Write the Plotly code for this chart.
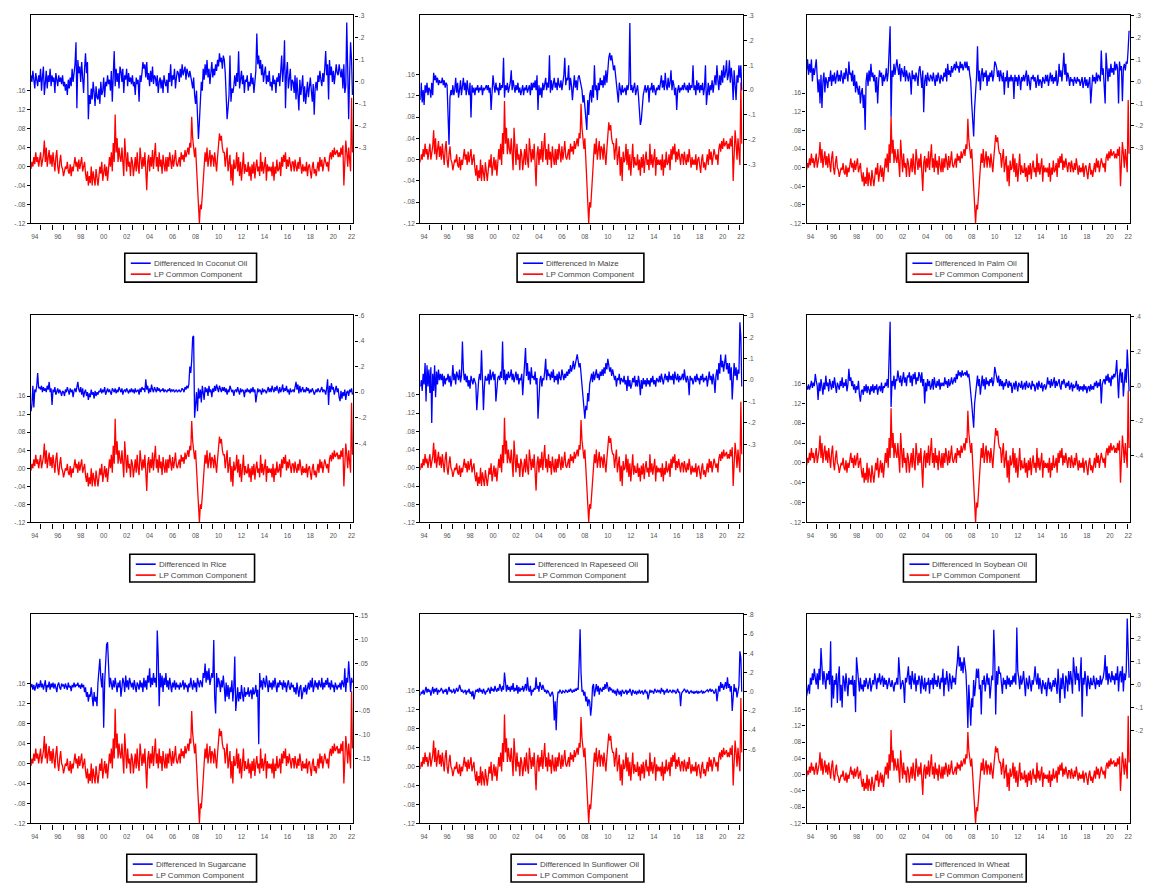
import pandas as pd
import plotly.graph_objects as go

OFF = 0
W, H = 1149, 886

# ---------------- data (monthly, 1994M03 .. 2022M03), values in thousandths ----------------
lp_common = [
 -5, 10, 0, 20, 5, 30, 10, 20, 0, 15,
 30, 0, 15, 25, 55, 10, 40, 0, 20, 35, 5, 25,
 0, 30, 10, -10, 20, 35, 0, -15, 10, 25, 0, -5,
 -20, -10, 0, -5, 10, -10, -15, 5, -20, 0, -10, 5,
 20, 0, 10, -10, 15, -5, 5, 20, -10, 0, 10, -15,
 -30, -10, -40, -20, -35, 0, -40, -10, -25, -40, -5, -20,
 -40, -20, 0, -15, 10, -30, -10, 5, -20, 0, -30, 10,
 20, 0, 30, -10, 50, 10, 110, 30, 60, 10, 40, 20,
 10, 40, 0, -20, 60, 20, -10, 30, 0, 10, -20, 20,
 10, -20, 0, 20, -10, 30, 0, -15, 40, 10, -5, 20,
 0, 30, -10, -50, 10, 25, -10, 20, 0, 35, -5, 15,
 50, 0, 20, -10, 30, 0, 15, -15, 25, 5, -10, 20,
 -10, 20, 0, 30, 10, -5, 25, 0, 15, 35, 5, 0,
 10, 20, 0, 30, 15, 25, 10, 35, 20, 30, 40, 25,
 50, 40, 105, 60, 30, 20, 40, 0, -60, -100, -120, -80,
 -90, -60, -30, 0, 30, 10, 40, 0, 20, 35, 0, 25,
 20, 0, 30, 10, -10, 20, 40, 70, 55, 65, 40, 30,
 30, 0, 20, 40, -10, 10, 25, -30, 5, -40, 15, -5,
 0, 30, -10, 20, -20, 10, -30, 0, 30, -15, 5, -10,
 -10, 10, -20, 0, -30, 5, -15, 10, -25, 0, 15, -10,
 0, -20, 30, -10, 10, -15, 0, 20, -30, 5, -10, 0,
 -10, 0, -20, 10, -30, 0, -15, 15, -10, -5, 10, -20,
 20, 0, 25, 10, 30, -5, 15, 0, 20, 5, -10, 10,
 10, -10, 15, 0, -10, 10, -5, 20, 0, -15, 5, -10,
 0, -10, 10, -20, 0, 5, -10, -25, 0, 10, -15, -5,
 -20, 0, 10, -10, 20, 0, 15, -10, 5, 20, 10, 0,
 10, -10, 20, 30, 15, 35, 20, 40, 25, 30, 35, 20,
 30, 20, 40, 25, 45, -40, 20, 55, 30, 0, 40, 20,
 -10, 145, 30]

coconut_oil = [
 30, 0, 50, 20, -30, 40, 10, -20, 30, 0,
 60, -40, 20, 70, -60, 10, 50, -30, 30, 0, 60, -20,
 30, 0, 20, -50, 40, 10, -20, 30, 0, 20, -10, 30,
 -20, 0, -40, -10, -60, 10, -30, 20, -20, 60, 0, 40,
 80, 180, -120, 100, 40, 70, 0, 90, 30, -50, 60, 130,
 40, 90, -170, -60, -100, -30, -80, 0, -50, -110, -20, -70,
 -80, -30, -100, 0, -60, -40, 20, -70, 0, -20, 30, -10,
 10, -40, 50, -90, 30, 140, -20, 60, 0, 40, -30, 70,
 50, 0, 60, -50, 30, 10, 60, -20, 40, 0, 20, -10,
 30, -20, 0, -60, 20, -10, 10, -90, 30, 0, 40, 90,
 60, 80, 20, 90, 10, 40, -20, 50, 0, 70, -10, 30,
 20, -20, 30, -50, 0, 20, -30, 10, -50, 30, 0, -20,
 10, -50, 40, 0, 80, -20, 30, 10, 60, -30, 20, 50,
 40, 0, 60, 20, 80, 30, 50, 70, 10, 60, 40, 20,
 50, 30, 0, -30, 20, -60, -100, -40, -150, -260, -180, -60,
 0, -40, 60, 10, 80, 30, 100, 20, 60, -10, 40, 90,
 20, 60, 30, 80, 50, 100, 70, 130, 90, 110, 60, 120,
 100, 40, -60, -170, -120, -60, 120, -90, -30, -50, -20, 30,
 -20, 40, 0, 140, -30, 20, 50, -10, 30, -50, 10, 0,
 30, -40, 0, -20, 40, -10, 20, -50, 10, 50, 220, 80,
 120, 60, 100, 30, 80, 0, 40, 70, -10, 30, 0, 50,
 -20, 0, -40, 30, -10, 10, -50, 20, 0, 40, -20, 30,
 120, 0, 60, 190, -120, 40, 90, -30, 20, 60, -40, 10,
 0, -50, 30, -80, 20, -40, -130, 10, -60, -20, 30, -90,
 -20, -100, -50, 0, -70, -30, 20, -40, -90, -10, -150, -30,
 0, -40, 30, 0, 50, 10, -20, 40, 0, 60, 140, 30,
 80, -80, 100, 30, 70, 0, 50, -10, 60, 80, 40, 30,
 80, 50, 20, 60, -30, 80, -50, -20, 270, 60, -170, 30,
 180, 100, -60]

maize = [
 -40, 30, -50, 0, -60, 20, -10, 30, -20, 10,
 0, -30, 30, -20, 70, 40, 60, 30, 50, 20, 40, 30,
 30, 50, 20, 40, 10, 30, 20, -160, -220, -30, 0, -20,
 20, -20, 0, 50, -10, 30, -30, 0, 40, -20, 10, 50,
 0, 30, -20, 40, 0, -20, 30, -110, 20, -10, 10, -20,
 10, 0, 20, -10, 10, 0, 20, -20, 10, 0, 10, 20,
 0, 20, -10, 10, -80, 0, 60, 20, -10, 30, 0, 10,
 -20, 30, 0, 20, 10, 130, -30, 20, 0, 30, -10, 10,
 30, 80, 0, 40, 10, -10, 20, 0, 30, -10, 10, -20,
 0, 20, -20, 10, 0, 20, -10, 10, 20, -20, 30, 0,
 30, 10, 40, 0, 60, -80, 20, -20, 10, -30, 30, 0,
 20, 50, 0, 30, 10, 140, -10, 40, 0, 20, 50, 10,
 30, 0, 50, 20, 10, 40, 0, 30, 60, 130, 20, 50,
 40, 100, 0, 50, 20, -40, 30, 60, 10, 40, 0, 50,
 60, 30, 20, 0, -50, -20, -60, -100, -160, -40, -100, -20,
 0, -50, 20, -30, 100, 0, 20, -40, 30, 0, 50, 20,
 40, 10, 60, 20, 80, 30, 100, 130, 150, 120, 140, 100,
 80, 100, 60, 40, 0, -50, 30, 0, -20, 20, -10, 0,
 10, -20, 20, 0, 30, 270, 0, 20, -10, 10, 30, -20,
 0, 20, -20, -100, -140, -120, -60, -20, 0, 20, -10, 10,
 20, -50, 10, 0, 30, -10, 20, 0, -20, 10, 0, 20,
 0, 30, 60, 10, 40, 0, 70, 20, 0, 50, 10, 30,
 80, 0, 40, 20, -20, 10, -80, 0, 20, -10, 10, 0,
 20, 0, 30, 10, 0, 20, -10, 30, 0, 20, 10, 100,
 0, 20, -20, 40, 0, 30, -10, 20, 0, 30, -20, 10,
 100, -60, 0, 30, -20, 20, 0, 40, -10, 30, 60, 20,
 100, 40, 0, 60, 20, 80, 30, 100, 50, 70, 120, 40,
 60, 120, 30, 90, 50, -40, 80, 20, -40, 60, 30, 100,
 50, 100, 0]

palm_oil = [
 50, 100, 30, 80, 40, 100, 0, 60, 30, 80,
 100, 20, -50, 10, -100, 30, -120, 0, 40, -50, 20, 0,
 -30, 20, 0, 50, -20, 30, 0, 40, -10, 20, 50, 0,
 30, 0, 50, 20, -10, 40, 10, 60, 20, 0, 90, 30,
 40, 0, 50, -20, 30, -50, 0, -30, -60, -20, -100, -50,
 -30, -120, -60, -220, 0, 40, -20, 50, 0, 80, 20, 40,
 0, 30, -50, 20, -100, 0, 50, 20, 40, -20, 30, 0,
 20, 60, 0, 40, 180, 250, -160, 50, 20, 80, 30, 60,
 100, 60, 30, 80, 0, 60, 40, 20, 70, 0, 50, 30,
 0, 40, 20, -60, 50, 10, 30, 0, 40, 20, -20, 50,
 70, 20, -30, 50, -140, 0, 30, -20, 40, 10, 0, 30,
 20, 0, 40, 10, -20, 30, 0, 40, 20, -10, 30, 10,
 0, 40, 20, 60, 0, 80, 30, 50, 20, 70, 40, 60,
 80, 50, 90, 60, 70, 40, 90, 60, 80, 50, 70, 90,
 60, 90, 50, 70, 30, 0, -100, -180, -250, -120, -50, 20,
 160, 0, 50, -40, 30, 60, 0, 40, 20, 50, -20, 30,
 0, 40, 20, 50, 0, 30, 90, 80, 60, 20, 50, 0,
 50, 30, 0, 40, -60, 20, 0, 50, -30, 20, 0, 30,
 0, 20, -80, 30, 0, 20, -20, 30, 10, -40, 20, 0,
 30, 0, 20, 50, -20, 30, 0, -40, 20, 10, 30, 0,
 20, -30, 0, 30, -20, 10, 0, -30, 20, 0, -10, 30,
 0, 30, -20, 10, 40, 0, 30, -10, 20, 0, 50, -20,
 0, 80, 20, 50, 0, 60, 130, 30, 80, 0, 40, 20,
 -20, 20, 0, 10, -20, 20, 0, -10, 20, 0, 10, -20,
 0, 20, -30, 0, 20, -20, 10, -30, 0, 20, -100, 0,
 30, 0, 20, -10, 40, 0, 30, 20, 0, 140, 30, 60,
 0, -100, 130, 50, 0, 60, 20, 80, 40, 60, 30, 90,
 50, 80, 60, -100, 90, 50, 70, -90, 60, 80, 50, 90,
 80, 150, 230]

rice = [
 -150, -100, 50, -120, 20, 0, 50, 150, 30, 40,
 20, 50, 0, 40, 10, 30, 0, 50, 20, 80, 0, 30,
 -100, 20, 0, 40, -20, 10, 30, -10, 20, 0, -30, 10,
 0, -30, 20, 0, 40, 10, -20, 30, 0, 20, -40, 10,
 30, 0, 50, 80, 20, 0, 40, -20, 30, -40, 0, 20,
 -30, 0, -60, -10, -40, 20, -20, 0, -50, 10, -30, 0,
 -20, 10, 0, 30, -10, 20, 0, 40, -20, 10, 30, 0,
 20, 0, -20, 30, 10, 0, 30, -10, 20, 0, 40, 10,
 0, 30, -20, 10, 20, 0, 30, 10, -10, 20, 0, 30,
 0, 20, -10, 30, 0, 10, 20, -20, 30, 0, 40, 20,
 30, 0, 100, 20, 50, -10, 30, 0, 60, 20, 0, 40,
 20, 0, 40, 10, 30, 0, 20, 10, 30, 0, 20, 10,
 0, 20, 10, 30, 0, 20, 10, 20, 0, 10, 20, 0,
 10, 20, 0, 10, 30, 20, 0, 40, 20, 50, 30, 60,
 200, 150, 250, 430, 440, -200, -100, 0, -150, 30, -50, 20,
 -80, 50, 0, -60, 40, 0, 30, -30, 50, 0, 20, -40,
 30, 0, 50, 10, 60, 20, 0, 50, 30, 0, 40, 10,
 40, 0, 30, -20, 20, 0, 50, 30, 0, 20, -30, 10,
 20, 0, 40, 10, -20, 30, 0, 20, 10, -40, 20, 0,
 30, 0, 20, -10, 30, 0, 40, 0, 20, -80, 10, 30,
 0, 20, 10, -20, 30, 0, 20, 10, -10, 20, 40, 0,
 30, 0, 50, 20, 0, 40, 10, 50, 20, -10, 40, 0,
 20, 60, 0, 30, 10, 50, 0, 20, -20, 30, 0, 10,
 20, 0, 40, 80, 20, 60, -10, 50, 0, 30, 40, 0,
 20, 0, 40, 10, 30, -10, 20, 0, 30, 10, -20, 0,
 20, 0, 30, 10, 0, 20, 40, 0, 20, 10, -20, 30,
 100, -100, 50, 0, 70, 20, 40, -20, 30, 50, 0, 30,
 -40, -70, 10, -50, 0, -30, 20, -60, 0, 10, -30, 20,
 0, 30, -20]

rapeseed_oil = [
 -30, 0, -50, 30, -20, 80, -100, 70, -30, 50,
 -60, 60, -200, 30, -50, 70, -80, 40, -20, 50, 0, 30,
 0, 30, -30, 20, -20, 10, 0, 30, -10, 20, -30, 0,
 70, 0, 30, -20, 40, 10, 0, 50, -10, 20, 180, 50,
 0, 30, -10, 20, -30, 0, -40, 20, 0, -20, 10, -10,
 -20, -140, -40, 0, 30, 0, 140, 20, -140, -30, 20, 0,
 0, 30, -20, 50, 0, 20, 40, 0, 30, -100, -20, 10,
 20, 0, 40, 10, 180, 0, 50, -20, 30, 0, 40, 10,
 20, 50, 0, 30, -10, 20, 40, 0, 30, -20, 10, 0,
 30, -70, 0, 40, 150, 20, 80, 0, 40, -20, 60, 10,
 20, 0, 40, -20, 10, -180, -60, 0, 20, -30, 10, 0,
 40, 100, 0, 50, 20, 30, 0, 40, 10, 50, -10, 20,
 0, 30, -20, 40, 10, 0, 50, 20, 0, 30, 10, 40,
 20, 50, 30, 70, 40, 60, 90, 50, 80, 110, 120, 90,
 60, 80, 30, 0, -50, -100, -180, -120, -140, -60, -100, -20,
 0, 30, -10, 40, 0, 20, 50, 10, 30, 0, 40, 20,
 50, 20, 60, 30, 80, 50, 100, 70, 40, 60, 20, 50,
 30, 0, 20, -30, 10, 0, 30, -20, 10, 0, -10, 20,
 -20, 0, -50, 20, -30, 0, -40, -20, 10, -10, 20, -30,
 0, -30, 20, -10, -70, 0, -40, 10, -20, 0, -30, 10,
 -20, 0, -30, 10, -10, 20, -20, 0, -30, 10, 0, -10,
 20, -10, 30, 0, -20, 10, 30, 0, 20, -10, 40, 0,
 20, 0, 30, -20, 40, 10, 0, 30, -10, 20, 0, 10,
 30, 0, 50, 10, -10, 20, 0, -70, 20, 0, 10, -20,
 0, 20, -10, 30, 0, 10, -20, 20, 0, 30, -10, 10,
 0, 20, -30, 10, 40, 0, 20, -20, 30, 0, -60, 20,
 50, 0, 80, 30, 120, 60, 90, 40, 70, 120, 50, 80,
 30, 80, 0, 60, -90, 40, 80, 20, 60, 0, 50, 30,
 270, 200, -30]

soybean_oil = [
 0, -20, 10, -20, 0, 30, -10, 20, 0, 70,
 30, 0, -80, 20, -30, 40, 0, -50, 20, -20, 60, 0,
 20, -30, 40, 0, -20, 30, -10, 50, 0, -40, 20, 0,
 -20, 30, 0, 50, -10, 20, 0, 40, -30, 10, 100, 30,
 50, 0, 30, -20, 10, -40, 0, -20, 30, -50, -90, -30,
 -20, -50, 0, -30, 10, -40, 0, -20, -50, 0, -30, 10,
 -40, 0, -20, 10, -50, -10, 0, -30, 20, -40, 0, -10,
 20, 0, 40, -10, 170, 370, -120, 30, 0, 60, -20, 40,
 30, 90, 50, 20, 60, 0, 40, 80, 20, 50, 0, 60,
 50, 80, 20, 60, 0, 70, 40, 80, 10, 50, 30, 80,
 60, 20, 80, 0, 40, -100, 20, -30, 40, 0, 30, -20,
 0, 40, -20, 50, 10, -10, 30, 0, 40, -20, 20, 0,
 20, 0, 50, 10, 30, -10, 40, 0, 20, 50, 10, 30,
 50, 20, 70, 40, 90, 60, 80, 50, 90, 60, 70, 80,
 60, 90, 50, 70, 20, -30, -100, -170, -240, -100, -50, 0,
 60, 0, 40, -50, 30, 60, 0, 40, -20, 50, 10, 30,
 0, 40, 20, 50, 0, 30, 110, 80, 50, 20, 60, 0,
 40, 0, 30, -20, 20, 0, 40, 10, -10, 30, 0, 20,
 -40, 0, 20, -20, 30, 0, -30, 20, 0, -10, 30, -20,
 0, 20, -20, 30, 0, -10, 20, 0, -20, 30, 0, 10,
 -30, 0, 20, -20, 30, 0, -10, 20, -30, 0, 10, -20,
 0, 50, 10, 30, -10, 40, 0, 20, 50, -10, 30, 0,
 20, 40, 0, -20, 30, 10, 40, 0, -10, 20, 0, 30,
 -20, 0, 20, -30, 10, -10, 0, 30, -20, 10, -30, 0,
 -20, 0, -30, 10, -20, 0, -40, -10, 0, -30, 10, -20,
 0, -20, 20, 0, 30, -10, 20, 0, 40, -100, 10, 30,
 40, 10, 60, 30, 70, 20, 50, 0, 60, 40, 70, 50,
 80, 150, 30, -70, 60, 100, 20, 80, -60, 40, 100, 20,
 210, 100, -30]

sugarcane = [
 0, 7, -5, 5, -7, 3, 10, -3, 7, 0,
 15, 0, 8, -5, 10, 15, -10, 5, 0, 12, -5, 8,
 0, 10, -3, 8, 0, -10, 5, 10, 0, -5, 8, 3,
 5, -3, 8, 0, -5, 10, 0, 3, -8, 5, 0, 10,
 0, 5, 3, 10, 0, 5, -3, 8, 0, 5, -10, 0,
 -20, -10, -30, -15, -20, 0, -25, -40, -10, -30, -20, -40,
 10, 30, 60, 20, 0, 30, -85, 10, 40, 90, 95, 20,
 0, 20, 10, -5, 15, 0, 20, 5, -10, 10, 0, 15,
 -20, 0, 20, 10, -10, 25, 0, 15, -5, 20, 5, 0,
 10, -5, 15, 0, -10, 10, 5, -5, 15, 0, 10, -10,
 20, 0, 15, -5, 25, 10, 40, 0, 20, 5, 30, 10,
 20, 0, 120, 65, -40, 30, 0, 25, -10, 20, 5, 30,
 0, 15, -5, 20, 5, -10, 10, 0, 15, -5, 10, 0,
 5, -5, 10, 0, 5, 15, -5, 10, 0, 5, -10, 8,
 0, 20, 5, -5, 15, 0, 10, -10, 20, 5, 0, 15,
 10, 0, 30, 20, 50, 10, 35, 15, 40, 5, 20, 30,
 20, 100, -20, -55, 30, 0, 20, 10, -10, 15, 0, 25,
 0, -30, 10, -20, 5, -25, 0, -10, 15, -30, 0, 65,
 -50, -20, 0, -30, -10, -25, 5, -15, -30, 0, -20, -10,
 -15, 0, -20, -10, -5, -25, 0, -15, -10, 5, -20, -5,
 -120, 30, 0, 15, -5, 20, 10, 0, 25, 5, -10, 15,
 0, 10, -5, 15, 0, 20, 5, -10, 10, 0, 15, 5,
 10, -5, 15, 0, 10, -10, 5, 15, 0, -5, 10, 0,
 5, -10, 0, -15, 10, -5, -20, 0, 5, -25, -10, 0,
 -10, 5, -15, 0, 10, -5, 15, 0, 20, -10, 5, 15,
 0, 10, -5, 15, 5, 0, 20, -5, 10, 0, 15, 5,
 20, 0, 10, -5, 15, 0, 5, -10, 10, 0, -5, 5,
 0, 10, -5, 15, 5, 0, 40, -10, 20, 10, 55, 30,
 -10, 20, 10]

sunflower_oil = [
 -40, 0, -20, 20, -30, 10, 50, -10, 30, 0,
 20, -40, 10, 50, -20, 30, 0, 40, -30, 20, 0, 10,
 40, 0, -20, 20, 0, 30, -30, 10, 50, 0, 20, -10,
 0, 30, -20, 10, 40, 0, 20, 70, 30, 0, 20, -10,
 0, 20, -30, 10, 0, 30, -20, 0, -50, 10, -80, 0,
 20, 0, 30, -10, 40, 0, 20, -20, 30, 0, -30, 10,
 0, 40, 20, -20, 50, 10, 30, 0, 60, 20, 0, 40,
 10, 80, 30, 0, 60, 20, 200, 40, 0, 70, 20, 50,
 0, 60, 20, 90, 0, 40, 10, 70, -20, 50, 0, 30,
 20, 60, 0, 40, 80, 10, 150, 30, 0, 60, -40, 20,
 0, 40, 20, 150, 30, 60, 0, 100, 40, 20, 70, 30,
 0, 20, -20, 10, 0, -30, -50, -20, 0, -50, -300, -100,
 -400, -100, 0, -10, 20, 0, -20, 10, 0, -10, 20, 0,
 -10, 20, 0, 30, 10, -10, 20, 0, 30, 10, 40, 20,
 300, 650, 200, 0, 20, -40, 0, -100, -50, -150, -80, -100,
 -250, -150, 50, 80, -50, 30, 80, 0, 60, -30, 40, 20,
 0, 50, 20, 80, 30, 100, 40, 0, 50, 20, 30, -10,
 20, -20, 10, -40, 30, 0, -30, 10, -50, 20, 0, -20,
 0, 20, -30, 10, -10, 30, 0, -40, 20, 0, -20, 10,
 -30, 0, -10, 20, -20, 0, 10, -30, 0, 20, -10, 0,
 -80, 0, 20, -10, 10, 0, -20, 30, 0, -10, 20, 0,
 10, -20, 40, 0, 20, -30, 10, 0, 30, -10, 0, 20,
 0, -10, 20, 0, 10, -20, 0, 30, -10, 0, -150, -20,
 0, 10, 30, 0, -10, 20, 0, -20, 0, 10, -10, 0,
 -20, 0, -10, 10, -20, 0, -10, 0, 10, -20, 0, -10,
 0, 10, 20, 0, 10, 30, 0, 20, 10, -20, 0, 30,
 -100, 20, 60, 0, 100, 40, 80, 20, 60, 100, 30, 150,
 40, 80, 0, 60, -200, 30, 80, 0, 40, -60, 20, 60,
 420, 350, 0]

wheat = [
 -50, -20, 0, -40, 30, 0, 50, 20, 70, 30,
 0, 50, -20, 70, 20, 160, 40, 0, 60, 30, -20, 50,
 20, 60, 0, 190, -100, 40, -60, 20, 0, 50, -80, 30,
 80, -70, 0, -100, 40, 20, -30, 50, 0, -50, 30, 0,
 20, 0, 40, -50, 20, -120, 120, 60, 0, -30, 30, -20,
 0, -30, 20, -10, 30, 0, -20, 10, 30, -30, 0, 20,
 0, 50, 20, -20, 30, 10, 50, 0, 20, 40, -10, 30,
 0, 20, -20, 10, 30, 0, -10, 20, 0, -30, 10, 0,
 30, 0, 120, 50, -20, 0, 20, 0, -80, 30, 10, 40,
 80, 0, 40, -20, 60, 20, 0, 50, -30, 20, 0, 40,
 20, -40, 40, 0, -20, 30, -30, 10, 0, 30, -40, 20,
 0, 30, -20, 50, 0, 20, -10, 40, 0, -20, 30, 10,
 70, -50, 30, 0, 60, 20, -30, 50, 0, -20, 40, 10,
 30, 0, 60, 100, 170, 80, 120, 60, 100, 50, 120, 70,
 50, -50, -190, 0, -100, -180, -60, -100, 20, -50, 0, 70,
 30, 70, -20, 0, -130, 20, 0, 40, -30, 10, 50, 0,
 30, -60, 0, 40, 20, 240, 120, -130, 60, 0, 80, 50,
 50, 0, -40, 30, 0, 20, -20, 40, 0, 30, -10, 20,
 0, 40, 10, 50, 0, 250, 60, 30, -20, 40, 0, 20,
 60, 0, -50, 30, 0, -20, 40, 10, -30, 20, 0, 30,
 80, 20, 0, 50, -20, 30, 0, -40, 20, 0, -20, 10,
 -50, 0, 30, -20, 10, -30, 0, 20, -10, 30, 0, -40,
 70, 0, -80, 30, -20, 50, 0, -60, 40, 20, -30, 60,
 0, 60, 20, -40, 120, 30, 0, 80, 20, 50, -30, 40,
 120, -140, 30, 0, 60, 20, -50, 40, 0, -20, 30, 0,
 0, 40, 10, -20, 30, 0, 20, -10, 40, 0, 20, 30,
 60, 130, 20, 80, 0, 50, 30, 10, 60, 20, 40, 0,
 50, 20, 80, -30, 40, 60, 10, 80, -30, 50, 20, 60,
 290, 120, 30]

commodity_names = ["Coconut Oil", "Maize", "Palm Oil", "Rice", "Rapeseed Oil",
                   "Soybean Oil", "Sugarcane", "Sunflower Oil", "Wheat"]
commodity_series = [coconut_oil, maize, palm_oil, rice, rapeseed_oil,
                    soybean_oil, sugarcane, sunflower_oil, wheat]
common_name = "LP Common Component"

x_label_years = list(range(1994, 2021, 2)) + [2022]
x_labels = ["94", "96", "98", "00", "02", "04", "06", "08", "10", "12",
            "14", "16", "18", "20", "22"]
left_ticks = [0.16, 0.12, 0.08, 0.04, 0.0, -0.04, -0.08, -0.12]
right_ticks = [
    [0.3, 0.2, 0.1, 0.0, -0.1, -0.2, -0.3],
    [0.3, 0.2, 0.1, 0.0, -0.1, -0.2, -0.3],
    [0.3, 0.2, 0.1, 0.0, -0.1, -0.2, -0.3],
    [0.6, 0.4, 0.2, 0.0, -0.2, -0.4],
    [0.3, 0.2, 0.1, 0.0, -0.1, -0.2, -0.3],
    [0.4, 0.2, 0.0, -0.2, -0.4],
    [0.15, 0.10, 0.05, 0.0, -0.05, -0.10, -0.15],
    [0.8, 0.6, 0.4, 0.2, 0.0, -0.2, -0.4, -0.6],
    [0.3, 0.2, 0.1, 0.0, -0.1, -0.2],
]
right_decimals = [1, 1, 1, 1, 1, 1, 2, 1, 1]

# ---------------- layout geometry (window pixels) ----------------
cols = [(31, 354), (421, 744), (808, 1132)]
rows = [(12, 222), (314, 523), (615, 826)]
left_ranges = [(-0.12, 0.32), (-0.12, 0.272), (-0.12, 0.328),
               (-0.12, 0.34), (-0.12, 0.336), (-0.12, 0.298),
               (-0.12, 0.30), (-0.12, 0.323), (-0.12, 0.396)]
right_ranges = [(-0.645, 0.305), (-0.537, 0.303), (-0.645, 0.302),
                (-1.02, 0.605), (-0.665, 0.305), (-0.785, 0.41),
                (-0.287, 0.155), (-1.37, 0.81), (-0.607, 0.31)]
legend_boxes = [(125, 257), (518, 645), (908, 1030),
                (130, 255), (510, 649), (905, 1038),
                (127, 257), (512, 645), (908, 1028)]
legend_rows = [(252, 281), (555, 583), (857, 885)]

BLUE = "#0000FF"
RED = "#FF0000"
FONT_FAMILY = "Liberation Sans, Arial, sans-serif"
TICKFONT = dict(family=FONT_FAMILY, size=6.5, color="#555555")


def px_x(p):
    return (p - OFF) / W


def px_y(p):
    return 1 - (p - OFF) / H


def fmt(v, d):
    s = f"{abs(v):.{d}f}".lstrip("0")
    return ("-" if v < 0 else "") + s


def dates_for(n):
    return pd.date_range("1994-03-01", periods=n, freq="MS")


fig = go.Figure()
layout = dict(width=W, height=H, margin=dict(l=0, r=0, t=0, b=0),
              paper_bgcolor="white", plot_bgcolor="white", showlegend=False)
shapes, annotations = [], []

for i in range(9):
    r, c = divmod(i, 3)
    x0, x1 = cols[c]
    y0, y1 = rows[r]
    n = i + 1
    xk = "xaxis" if n == 1 else f"xaxis{n}"
    xr = "x" if n == 1 else f"x{n}"
    yl_i, yr_i = 2 * n - 1, 2 * n
    ylk = "yaxis" if yl_i == 1 else f"yaxis{yl_i}"
    ylr = "y" if yl_i == 1 else f"y{yl_i}"
    yrk, yrr = f"yaxis{yr_i}", f"y{yr_i}"

    layout[xk] = dict(
        domain=[px_x(x0), px_x(x1)], anchor=ylr, type="date",
        range=["1994-03-01", "2022-03-31"],
        tickmode="array",
        tickvals=[(f"{y}-07-01" if y < 2022 else "2022-02-01") for y in x_label_years],
        ticktext=x_labels,
        ticks="outside", ticklen=7, tickcolor="rgba(0,0,0,0)",
        tickfont=TICKFONT, showgrid=False, zeroline=False,
        showline=True, linecolor="black", linewidth=1.3, mirror=True,
        minor=dict(tickmode="array",
                   tickvals=[f"{y}-01-01" for y in range(1995, 2023)],
                   ticks="outside", ticklen=5, tickcolor="black", tickwidth=1,
                   showgrid=False),
        fixedrange=True,
    )
    layout[ylk] = dict(
        domain=[px_y(y1), px_y(y0)], anchor=xr, range=list(left_ranges[i]),
        tickmode="array", tickvals=left_ticks,
        ticktext=[fmt(v, 2) for v in left_ticks],
        ticks="outside", ticklen=3, tickcolor="black",
        tickfont=TICKFONT, showgrid=False, zeroline=False,
        showline=True, linecolor="black", linewidth=1.3, mirror=True,
        fixedrange=True,
    )
    layout[yrk] = dict(
        overlaying=ylr, side="right", anchor=xr, range=list(right_ranges[i]),
        tickmode="array", tickvals=right_ticks[i],
        ticktext=[fmt(v, right_decimals[i]) for v in right_ticks[i]],
        ticks="outside", ticklen=3, tickcolor="black",
        tickfont=TICKFONT, showgrid=False, zeroline=False,
        showline=True, linecolor="black", linewidth=1.3,
        fixedrange=True,
    )

    s = commodity_series[i]
    blue_name = f"Differenced ln {commodity_names[i]}"
    fig.add_trace(go.Scatter(
        x=dates_for(len(s)), y=[v / 1000 for v in s], mode="lines",
        line=dict(color=BLUE, width=1.3), name=blue_name,
        xaxis=xr, yaxis=yrr, hoverinfo="skip"))
    fig.add_trace(go.Scatter(
        x=dates_for(len(lp_common)), y=[v / 1000 for v in lp_common], mode="lines",
        line=dict(color=RED, width=1.3), name=common_name,
        xaxis=xr, yaxis=ylr, hoverinfo="skip"))

    # hand-drawn EViews-style legend box
    bl, br = legend_boxes[i]
    bt, bb = legend_rows[r]
    shapes.append(dict(type="rect", xref="paper", yref="paper",
                       x0=px_x(bl), x1=px_x(br), y0=px_y(bb), y1=px_y(bt),
                       line=dict(color="black", width=1.6), fillcolor="white", layer="above"))
    for k, (col, label) in enumerate([(BLUE, blue_name), (RED, common_name)]):
        yy = bt + 10 + 11 * k
        shapes.append(dict(type="line", xref="paper", yref="paper",
                           x0=px_x(bl + 6), x1=px_x(bl + 26), y0=px_y(yy), y1=px_y(yy),
                           line=dict(color=col, width=1.6), layer="above"))
        annotations.append(dict(xref="paper", yref="paper", x=px_x(bl + 27), y=px_y(yy),
                                xanchor="left", yanchor="middle", showarrow=False,
                                text=label, font=dict(family=FONT_FAMILY, size=8, color="#444444")))

layout["shapes"] = shapes
layout["annotations"] = annotations
fig.update_layout(**layout)
fig.write_html("out.html",
               config={"displayModeBar": False},
               post_script="document.body.style.margin='0';document.body.style.overflow='hidden';")
